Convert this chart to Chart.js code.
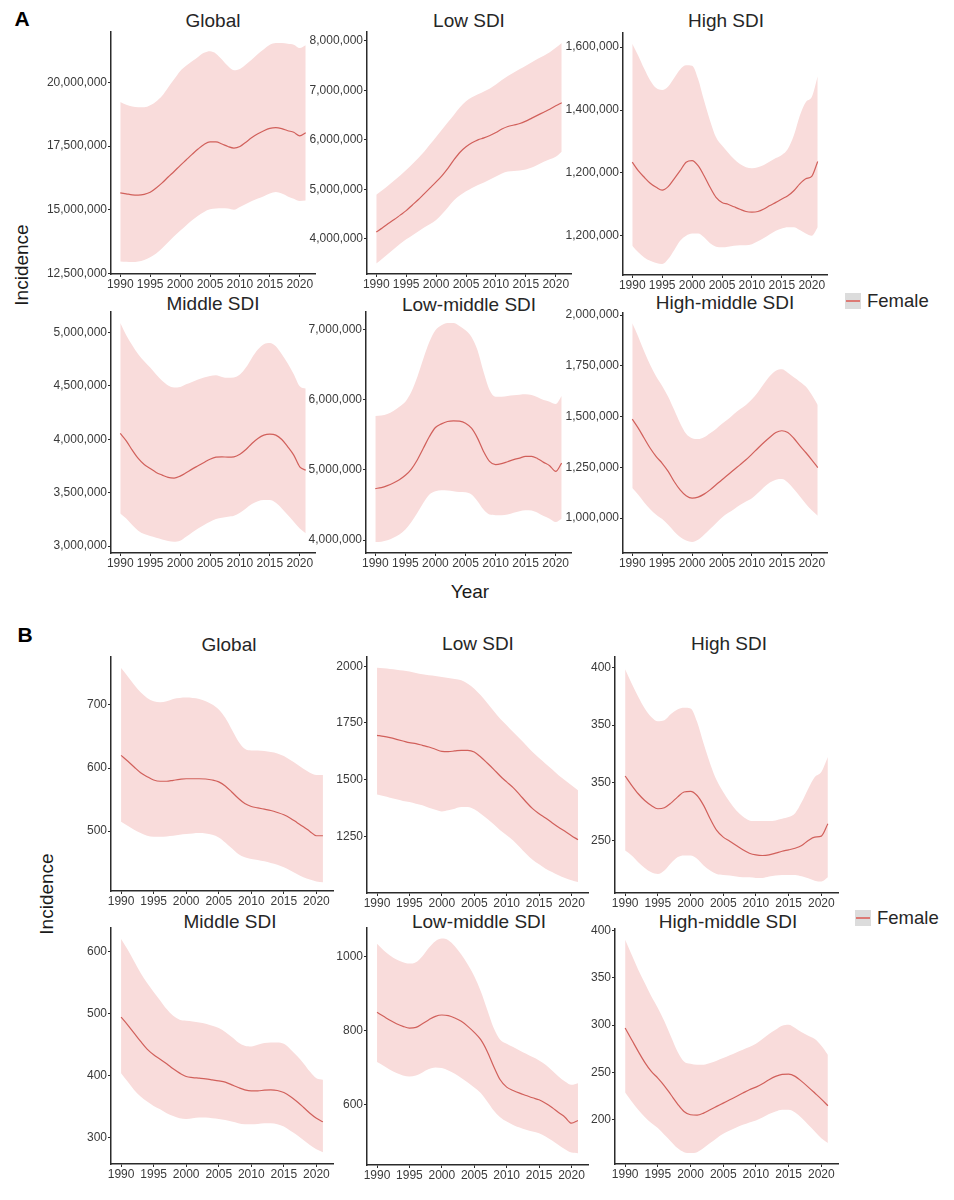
<!DOCTYPE html>
<html>
<head>
<meta charset="utf-8">
<script src="https://cdn.jsdelivr.net/npm/chart.js@4.4.0/dist/chart.umd.min.js"></script>
<style>
  body { margin: 0; background: #fff; }
  #page { position: relative; width: 954px; height: 1200px; overflow: hidden;
          font-family: "Liberation Sans", Arial, sans-serif; color: #1a1a1a; }
  #page canvas { position: absolute; }
  .txt { position: absolute; white-space: nowrap; transform: translate(-50%, -50%); }
  .title { font-size: 19px; color: #262626; }
  .axis-title { font-size: 19px; }
  .vert { transform: translate(-50%, -50%) rotate(-90deg); }
  .tag { font-size: 21px; font-weight: bold; color: #000; }
  .key { position: absolute; height: 20px; line-height: 20px; font-size: 18.5px; color: #262626; white-space: nowrap; }
  .sw { position: absolute; left: 0; top: 2px; width: 16px; height: 16px; background: #dcdcdc; }
  .sw i { position: absolute; left: 1px; right: 1px; top: 7px; height: 2px; background: #dc7a75; }
  .key b { position: absolute; left: 22px; top: 0; font-weight: normal; }
</style>
</head>
<body>
<div id="page">
  <div class="txt tag" style="left:22px;top:19px">A</div>
  <div class="txt tag" style="left:25px;top:635px">B</div>

  <div class="txt title" style="left:213px;top:21px">Global</div>
  <div class="txt title" style="left:469px;top:21px">Low SDI</div>
  <div class="txt title" style="left:726px;top:21px">High SDI</div>
  <div class="txt title" style="left:213px;top:304px">Middle SDI</div>
  <div class="txt title" style="left:469px;top:305px">Low-middle SDI</div>
  <div class="txt title" style="left:725px;top:303px">High-middle SDI</div>

  <div class="txt title" style="left:229px;top:645px">Global</div>
  <div class="txt title" style="left:478px;top:644px">Low SDI</div>
  <div class="txt title" style="left:729px;top:644px">High SDI</div>
  <div class="txt title" style="left:230px;top:922px">Middle SDI</div>
  <div class="txt title" style="left:479px;top:922px">Low-middle SDI</div>
  <div class="txt title" style="left:728px;top:922px">High-middle SDI</div>

  <div class="txt axis-title" style="left:470px;top:592px">Year</div>
  <div class="txt axis-title vert" style="left:22px;top:265px">Incidence</div>
  <div class="txt axis-title vert" style="left:47px;top:894px">Incidence</div>

  <div class="key" style="left:845px;top:291px"><span class="sw"><i></i></span><b>Female</b></div>
  <div class="key" style="left:855px;top:908px"><span class="sw"><i></i></span><b>Female</b></div>
</div>

<script>
const years = [1990, 1991, 1992, 1993, 1994, 1995, 1996, 1997, 1998, 1999,
               2000, 2001, 2002, 2003, 2004, 2005, 2006, 2007, 2008, 2009,
               2010, 2011, 2012, 2013, 2014, 2015, 2016, 2017, 2018, 2019,
               2020, 2021];
const yearTicks = [1990, 1995, 2000, 2005, 2010, 2015, 2020];

// panel A: incident cases, in millions
const aGlobalMid  = [15.66, 15.62, 15.58, 15.57, 15.60, 15.68, 15.85, 16.05, 16.28, 16.50, 16.73, 16.95, 17.17, 17.38, 17.56, 17.66, 17.66, 17.58, 17.48, 17.42, 17.48, 17.65, 17.83, 17.98, 18.10, 18.19, 18.22, 18.18, 18.10, 18.04, 17.90, 18.02];
const aGlobalHigh = [19.23, 19.12, 19.05, 19.02, 19.02, 19.10, 19.25, 19.47, 19.80, 20.12, 20.44, 20.65, 20.83, 21.00, 21.16, 21.22, 21.13, 20.90, 20.64, 20.48, 20.53, 20.70, 20.90, 21.12, 21.30, 21.48, 21.55, 21.55, 21.52, 21.48, 21.35, 21.46];
const aGlobalLow  = [12.96, 12.95, 12.94, 12.96, 13.02, 13.13, 13.28, 13.48, 13.72, 13.95, 14.17, 14.38, 14.58, 14.76, 14.91, 15.01, 15.04, 15.05, 15.04, 14.99, 15.10, 15.22, 15.34, 15.44, 15.53, 15.63, 15.69, 15.63, 15.52, 15.43, 15.34, 15.36];

const aLowMid  = [4.14, 4.22, 4.31, 4.39, 4.48, 4.57, 4.68, 4.79, 4.91, 5.03, 5.15, 5.28, 5.43, 5.60, 5.75, 5.86, 5.94, 6.00, 6.04, 6.09, 6.15, 6.22, 6.27, 6.30, 6.33, 6.38, 6.44, 6.50, 6.56, 6.62, 6.69, 6.75];
const aLowHigh = [4.89, 4.98, 5.08, 5.18, 5.28, 5.39, 5.51, 5.63, 5.76, 5.91, 6.06, 6.21, 6.36, 6.51, 6.66, 6.78, 6.86, 6.92, 6.98, 7.04, 7.12, 7.21, 7.29, 7.36, 7.43, 7.50, 7.57, 7.64, 7.70, 7.77, 7.86, 7.96];
const aLowLow  = [3.50, 3.60, 3.70, 3.80, 3.90, 3.99, 4.07, 4.15, 4.23, 4.30, 4.38, 4.50, 4.64, 4.78, 4.88, 4.96, 5.03, 5.09, 5.14, 5.20, 5.26, 5.32, 5.36, 5.37, 5.38, 5.40, 5.44, 5.50, 5.56, 5.61, 5.66, 5.76];

const aHighMid  = [1.234, 1.207, 1.186, 1.167, 1.154, 1.145, 1.156, 1.181, 1.207, 1.234, 1.239, 1.223, 1.191, 1.154, 1.122, 1.106, 1.100, 1.092, 1.084, 1.077, 1.075, 1.077, 1.085, 1.096, 1.106, 1.117, 1.127, 1.143, 1.165, 1.181, 1.189, 1.236];
const aHighHigh = [1.611, 1.573, 1.531, 1.494, 1.470, 1.464, 1.475, 1.502, 1.529, 1.542, 1.541, 1.499, 1.430, 1.366, 1.313, 1.287, 1.265, 1.244, 1.228, 1.218, 1.215, 1.218, 1.225, 1.236, 1.247, 1.257, 1.276, 1.319, 1.382, 1.425, 1.441, 1.507];
const aHighLow  = [0.968, 0.947, 0.931, 0.920, 0.913, 0.910, 0.926, 0.954, 0.984, 1.000, 1.007, 1.007, 0.995, 0.976, 0.965, 0.963, 0.965, 0.968, 0.970, 0.970, 0.973, 0.982, 0.993, 1.005, 1.016, 1.023, 1.027, 1.027, 1.018, 1.007, 1.000, 1.027];

const aMiddleMid  = [4.055, 3.986, 3.899, 3.821, 3.764, 3.727, 3.690, 3.665, 3.643, 3.637, 3.655, 3.686, 3.721, 3.752, 3.783, 3.814, 3.833, 3.836, 3.833, 3.836, 3.861, 3.905, 3.961, 4.008, 4.039, 4.048, 4.039, 3.998, 3.930, 3.852, 3.743, 3.711];
const aMiddleHigh = [5.090, 4.975, 4.881, 4.797, 4.732, 4.672, 4.607, 4.548, 4.504, 4.485, 4.491, 4.516, 4.538, 4.560, 4.579, 4.594, 4.600, 4.585, 4.576, 4.579, 4.607, 4.672, 4.763, 4.841, 4.891, 4.903, 4.872, 4.797, 4.710, 4.610, 4.498, 4.476];
const aMiddleLow  = [3.306, 3.259, 3.197, 3.144, 3.112, 3.094, 3.078, 3.062, 3.047, 3.041, 3.050, 3.087, 3.128, 3.165, 3.197, 3.228, 3.253, 3.265, 3.275, 3.284, 3.312, 3.353, 3.393, 3.421, 3.431, 3.431, 3.406, 3.353, 3.290, 3.228, 3.165, 3.119];

const aLowMidMid  = [4.733, 4.747, 4.775, 4.813, 4.860, 4.922, 5.011, 5.144, 5.309, 5.474, 5.602, 5.654, 5.687, 5.696, 5.692, 5.663, 5.592, 5.451, 5.262, 5.120, 5.073, 5.087, 5.115, 5.144, 5.167, 5.191, 5.191, 5.158, 5.106, 5.059, 4.978, 5.096];
const aLowMidHigh = [5.767, 5.772, 5.796, 5.838, 5.899, 5.970, 6.112, 6.325, 6.584, 6.821, 6.986, 7.057, 7.090, 7.090, 7.047, 6.986, 6.891, 6.702, 6.395, 6.136, 6.041, 6.041, 6.051, 6.060, 6.069, 6.074, 6.065, 6.032, 5.994, 5.970, 5.937, 6.051];
const aLowMidLow  = [3.972, 3.977, 3.996, 4.034, 4.081, 4.152, 4.256, 4.388, 4.530, 4.648, 4.695, 4.709, 4.704, 4.695, 4.685, 4.681, 4.648, 4.553, 4.435, 4.364, 4.355, 4.355, 4.364, 4.388, 4.411, 4.426, 4.421, 4.388, 4.341, 4.303, 4.256, 4.303];

const aHighMidMid  = [1.487, 1.443, 1.393, 1.344, 1.303, 1.270, 1.230, 1.180, 1.139, 1.110, 1.098, 1.103, 1.118, 1.139, 1.164, 1.189, 1.213, 1.238, 1.262, 1.287, 1.315, 1.344, 1.372, 1.398, 1.421, 1.430, 1.421, 1.393, 1.357, 1.323, 1.287, 1.249];
const aHighMidHigh = [1.959, 1.893, 1.820, 1.754, 1.697, 1.651, 1.598, 1.533, 1.467, 1.415, 1.393, 1.389, 1.398, 1.418, 1.439, 1.464, 1.487, 1.513, 1.536, 1.557, 1.585, 1.620, 1.661, 1.700, 1.726, 1.733, 1.716, 1.693, 1.672, 1.648, 1.607, 1.557];
const aHighMidLow  = [1.148, 1.115, 1.077, 1.044, 1.016, 0.995, 0.967, 0.934, 0.907, 0.889, 0.882, 0.893, 0.918, 0.946, 0.975, 1.003, 1.025, 1.044, 1.064, 1.082, 1.098, 1.123, 1.152, 1.175, 1.189, 1.192, 1.175, 1.143, 1.107, 1.070, 1.038, 1.011];

// panel B: rates
const bGlobalMid  = [620, 611, 601.6, 592.6, 586.3, 581, 579, 579, 580.5, 582, 583, 583, 583, 582.6, 581, 578, 571.6, 562, 552, 543.7, 539, 536.8, 534.7, 532.6, 529.5, 525.8, 520.5, 513.7, 506.8, 499.5, 492.6, 492.6];
const bGlobalHigh = [758.4, 745.3, 732, 720, 711, 705.8, 704.2, 705.8, 709.5, 711, 711.6, 711, 709.5, 705.8, 700.5, 692.6, 679.5, 661, 642.6, 630.5, 627.9, 627.9, 626.8, 625.3, 623.2, 619, 612.6, 605.8, 598.9, 592.6, 589, 589];
const bGlobalLow  = [514.7, 508.4, 502, 496.8, 492.6, 491, 491, 491.6, 492.6, 494.2, 495.3, 496.3, 496.8, 496.3, 494.2, 490, 482, 472.6, 463.7, 458.4, 455.8, 454.2, 452, 449.5, 446.8, 442.6, 437.4, 432, 426.8, 423.2, 420, 419];

const bLowMid  = [1695.6, 1691, 1685, 1678, 1670.6, 1663, 1659, 1651.5, 1644, 1634, 1625, 1623.5, 1626.5, 1629.4, 1629.4, 1622, 1600, 1573.5, 1545.6, 1516, 1490, 1464.7, 1434, 1401.5, 1372, 1350, 1331, 1310, 1290, 1272, 1253, 1235];
const bLowHigh = [1994, 1991, 1988, 1985, 1981, 1976.5, 1970.6, 1965, 1960, 1957, 1953, 1948.5, 1944, 1938, 1923.5, 1901.5, 1872, 1838, 1803, 1769, 1740, 1710, 1681, 1651.5, 1622, 1595.6, 1570.6, 1545.6, 1519, 1497, 1475, 1453];
const bLowLow  = [1434, 1428, 1420.6, 1413, 1406, 1401.5, 1394, 1387, 1376.5, 1367.6, 1360, 1365, 1372, 1379, 1379, 1369, 1350, 1328, 1303, 1276.5, 1254.4, 1232, 1203, 1173.5, 1147, 1126.5, 1107, 1092.6, 1078, 1066, 1056, 1048.5];

const bHighMid  = [305.9, 297.8, 290.5, 284.7, 280.4, 277.5, 278.4, 282.4, 287.6, 292, 292.6, 289, 280.4, 268.8, 258.7, 252.9, 249.4, 245.6, 241.9, 239, 237.5, 237, 237.5, 239, 240.7, 241.9, 243.3, 245.6, 250, 252.9, 253.8, 264.5];
const bHighHigh = [398.3, 386, 374.5, 364.4, 357.1, 353.4, 354.2, 359.5, 363.5, 365, 364.4, 352.8, 334, 316.6, 302.1, 292, 283.3, 276, 270.8, 267.4, 266.8, 266.8, 266.8, 267.4, 268.8, 270.3, 273.7, 283.3, 294.9, 305, 309.4, 322.4];
const bHighLow  = [241.3, 237, 231.2, 226.2, 222.5, 221, 224, 230.3, 235.5, 237, 237, 234.1, 228.3, 224, 221, 220.2, 219.6, 218.7, 218.1, 218.1, 217.5, 217.5, 218.7, 219.6, 220.2, 220.2, 220.2, 219, 217.3, 215.2, 214.4, 218.1];

const bMiddleMid  = [493.9, 481.5, 468, 454.6, 442.2, 433, 426, 418.5, 410.4, 403.5, 398, 396.4, 395.4, 394.3, 392.7, 391, 388.9, 384.6, 380.3, 376.5, 374.9, 374.9, 376, 376.5, 375.5, 372.2, 365.8, 357.7, 348.5, 338.8, 330.7, 325];
const bMiddleHigh = [619.9, 602.7, 583.8, 565, 548.8, 534.3, 520.8, 506.8, 496, 489.6, 488, 486.9, 485.3, 483.1, 479.9, 476.1, 469.7, 461.6, 453, 447.6, 446.5, 449.2, 451.9, 453, 453, 450.8, 442.2, 431.4, 419.6, 406.1, 395.4, 393];
const bMiddleLow  = [403.4, 390, 376.5, 365.8, 357.7, 350.7, 345.3, 338.8, 334.5, 330.7, 329.7, 330.7, 331.8, 331.8, 330.7, 329.7, 328, 325.4, 322.7, 321, 321, 321.6, 322.7, 322.7, 321, 317.3, 310.8, 303.8, 295.7, 287.7, 280.7, 276];

const bLowMidMid  = [849, 838.2, 827.4, 818.4, 811.2, 806.7, 808.5, 818.4, 829.2, 838.2, 841.8, 840, 833.7, 824.7, 811.2, 795, 775.3, 743.8, 703.4, 667.4, 647.6, 638.7, 631.5, 625.2, 618.9, 613.5, 604.5, 592.8, 579.3, 566.7, 550.6, 557.8];
const bLowMidHigh = [1033.3, 1016.2, 1001.8, 991, 983.8, 980.2, 983.8, 1000, 1022.5, 1040.4, 1047.6, 1043.1, 1027, 1004.5, 977.5, 946, 905.6, 856.2, 806.7, 775.3, 764.5, 755.5, 746.5, 737.5, 728.5, 719.6, 707.9, 692.6, 676.4, 662.9, 653.9, 658.4];
const bLowMidLow  = [715, 705.2, 694.4, 685.4, 679.1, 676.4, 679.1, 687.2, 696.2, 700.7, 698.9, 692.6, 683.6, 671.9, 660.2, 646.7, 631.5, 609, 584.7, 566.7, 555, 546, 538.9, 532.6, 528.1, 523.6, 514.6, 503.8, 492.1, 480.4, 471.5, 469.7];

const bHighMidMid  = [296.8, 284.5, 272.2, 260.6, 251, 244, 235.9, 226.4, 216.9, 208.8, 205.3, 204.9, 207, 210.6, 214.1, 217.6, 221.1, 224.6, 228.2, 231.7, 234.5, 238, 242.3, 245.8, 247.9, 248.2, 245.8, 240.5, 234.5, 228.2, 221.8, 214.8];
const bHighMidHigh = [390.1, 374.3, 358.5, 344.4, 330.3, 318, 303.9, 288, 272.2, 261.6, 259.2, 258.1, 258.1, 259.9, 262.3, 265.1, 268, 271.1, 274, 276.8, 280.3, 285.2, 290.5, 295.1, 299.3, 300.4, 296.8, 292.3, 288.7, 285.2, 278.2, 268.7];
const bHighMidLow  = [228.9, 219.4, 210.6, 202.8, 196.5, 191.2, 184.2, 177.1, 170.1, 165.8, 164.8, 165.8, 170.1, 175.4, 180.6, 185.2, 188.7, 191.9, 194.7, 197.2, 199.3, 202.5, 206, 208.8, 210.6, 210.6, 207.7, 201.8, 194.7, 187.7, 180.6, 175.4];

// tick values and the labels printed next to them
const aGlobalTicks = [12.5, 15, 17.5, 20];
const aGlobalLabels = ['12,500,000', '15,000,000', '17,500,000', '20,000,000'];
const aLowTicks = [4, 5, 6, 7, 8];
const aLowLabels = ['4,000,000', '5,000,000', '6,000,000', '7,000,000', '8,000,000'];
const aHighTicks = [1.0, 1.2, 1.4, 1.6];
const aHighLabels = ['1,200,000', '1,200,000', '1,400,000', '1,600,000'];
const aMiddleTicks = [3, 3.5, 4, 4.5, 5];
const aMiddleLabels = ['3,000,000', '3,500,000', '4,000,000', '4,500,000', '5,000,000'];
const aLowMidTicks = [4, 5, 6, 7];
const aLowMidLabels = ['4,000,000', '5,000,000', '6,000,000', '7,000,000'];
const aHighMidTicks = [1, 1.25, 1.5, 1.75, 2];
const aHighMidLabels = ['1,000,000', '1,250,000', '1,500,000', '1,750,000', '2,000,000'];
const bGlobalTicks = [500, 600, 700];
const bGlobalLabels = ['500', '600', '700'];
const bLowTicks = [1250, 1500, 1750, 2000];
const bLowLabels = ['1250', '1500', '1750', '2000'];
const bHighTicks = [250, 300, 350, 400];
const bHighLabels = ['250', '350', '350', '400'];
const bMiddleTicks = [300, 400, 500, 600];
const bMiddleLabels = ['300', '400', '500', '600'];
const bLowMidTicks = [600, 800, 1000];
const bLowMidLabels = ['600', '800', '1000'];
const bHighMidTicks = [200, 250, 300, 350, 400];
const bHighMidLabels = ['200', '250', '300', '350', '400'];

// box = [axis x, axis top, axis right, x-axis y]
const panels = [
  { mid: aGlobalMid, high: aGlobalHigh, low: aGlobalLow, ticks: aGlobalTicks, labels: aGlobalLabels, min: 12.47, max: 21.98, box: [111, 32, 315, 274] },
  { mid: aLowMid, high: aLowHigh, low: aLowLow, ticks: aLowTicks, labels: aLowLabels, min: 3.29, max: 8.18, box: [367, 32, 571, 274] },
  { mid: aHighMid, high: aHighHigh, low: aHighLow, ticks: aHighTicks, labels: aHighLabels, min: 0.875, max: 1.645, box: [623, 33, 827, 275] },
  { mid: aMiddleMid, high: aMiddleHigh, low: aMiddleLow, ticks: aMiddleTicks, labels: aMiddleLabels, min: 2.935, max: 5.193, box: [111, 312, 315, 553] },
  { mid: aLowMidMid, high: aLowMidHigh, low: aLowMidLow, ticks: aLowMidTicks, labels: aLowMidLabels, min: 3.816, max: 7.246, box: [366, 312, 571, 553] },
  { mid: aHighMidMid, high: aHighMidHigh, low: aHighMidLow, ticks: aHighMidTicks, labels: aHighMidLabels, min: 0.828, max: 2.01, box: [623, 313, 827, 553] },
  { mid: bGlobalMid, high: bGlobalHigh, low: bGlobalLow, ticks: bGlobalTicks, labels: bGlobalLabels, min: 405, max: 776, box: [111, 657, 333, 891] },
  { mid: bLowMid, high: bLowHigh, low: bLowLow, ticks: bLowTicks, labels: bLowLabels, min: 1000, max: 2041, box: [367, 657, 588, 893] },
  { mid: bHighMid, high: bHighHigh, low: bHighLow, ticks: bHighTicks, labels: bHighLabels, min: 204.5, max: 409, box: [615, 657, 838, 893] },
  { mid: bMiddleMid, high: bMiddleHigh, low: bMiddleLow, ticks: bMiddleTicks, labels: bMiddleLabels, min: 257, max: 637.5, box: [111, 928, 333, 1164] },
  { mid: bLowMidMid, high: bLowMidHigh, low: bLowMidLow, ticks: bLowMidTicks, labels: bLowMidLabels, min: 438, max: 1076, box: [367, 928, 588, 1165] },
  { mid: bHighMidMid, high: bHighMidHigh, low: bHighMidLow, ticks: bHighMidTicks, labels: bHighMidLabels, min: 153.3, max: 401.4, box: [615, 929, 838, 1164] }
];

const page = document.getElementById('page');
const W = 80, T = 12, R = 12, H = 24;   // y-axis width, top pad, right pad, x-axis height
const bandColor = '#f9dcdb';
const lineColor = '#d1605b';
const axisColor = '#2b2b2b';
const tickFont = { family: 'Liberation Sans', size: 12 };
const tickColor = '#3a3a3a';

panels.forEach(p => {
  const [x0, y0, x1, y1] = p.box;
  const cv = document.createElement('canvas');
  cv.width = (x1 - x0) + W + R;
  cv.height = (y1 - y0) + T + H;
  cv.style.left = (x0 - W) + 'px';
  cv.style.top = (y0 - T) + 'px';
  page.appendChild(cv);

  // lower "order" is drawn on top, so the mean line sits above the band
  new Chart(cv, {
    type: 'line',
    data: {
      labels: years,
      datasets: [
        { data: p.high, order: 2, fill: '+1', backgroundColor: bandColor, borderColor: 'rgba(0,0,0,0)', borderWidth: 0, pointRadius: 0, cubicInterpolationMode: 'monotone' },
        { data: p.low, order: 3, fill: false, borderColor: 'rgba(0,0,0,0)', borderWidth: 0, pointRadius: 0, cubicInterpolationMode: 'monotone' },
        { data: p.mid, order: 1, fill: false, borderColor: lineColor, borderWidth: 1.2, pointRadius: 0, cubicInterpolationMode: 'monotone' }
      ]
    },
    options: {
      responsive: false,
      animation: false,
      events: [],
      layout: { padding: { top: T, right: R, left: 0, bottom: 0 } },
      plugins: { legend: { display: false }, tooltip: { enabled: false } },
      scales: {
        x: {
          type: 'linear', min: 1988.45, max: 2022.55,
          afterBuildTicks: s => { s.ticks = yearTicks.map(v => ({ value: v })); },
          afterFit: s => { s.height = H; },
          ticks: { callback: v => String(v), font: tickFont, color: tickColor, padding: 0, maxRotation: 0, autoSkip: false },
          grid: { drawOnChartArea: false, drawTicks: true, tickLength: 3, color: axisColor },
          border: { color: axisColor, width: 1.5 }
        },
        y: {
          min: p.min, max: p.max,
          afterBuildTicks: s => { s.ticks = p.ticks.map(v => ({ value: v })); },
          afterFit: s => { s.width = W; },
          ticks: { callback: (v, i) => p.labels[i], font: tickFont, color: tickColor, padding: 1, autoSkip: false },
          grid: { drawOnChartArea: false, drawTicks: true, tickLength: 3, color: axisColor },
          border: { color: axisColor, width: 1.5 }
        }
      }
    }
  });
});
</script>
</body>
</html>
